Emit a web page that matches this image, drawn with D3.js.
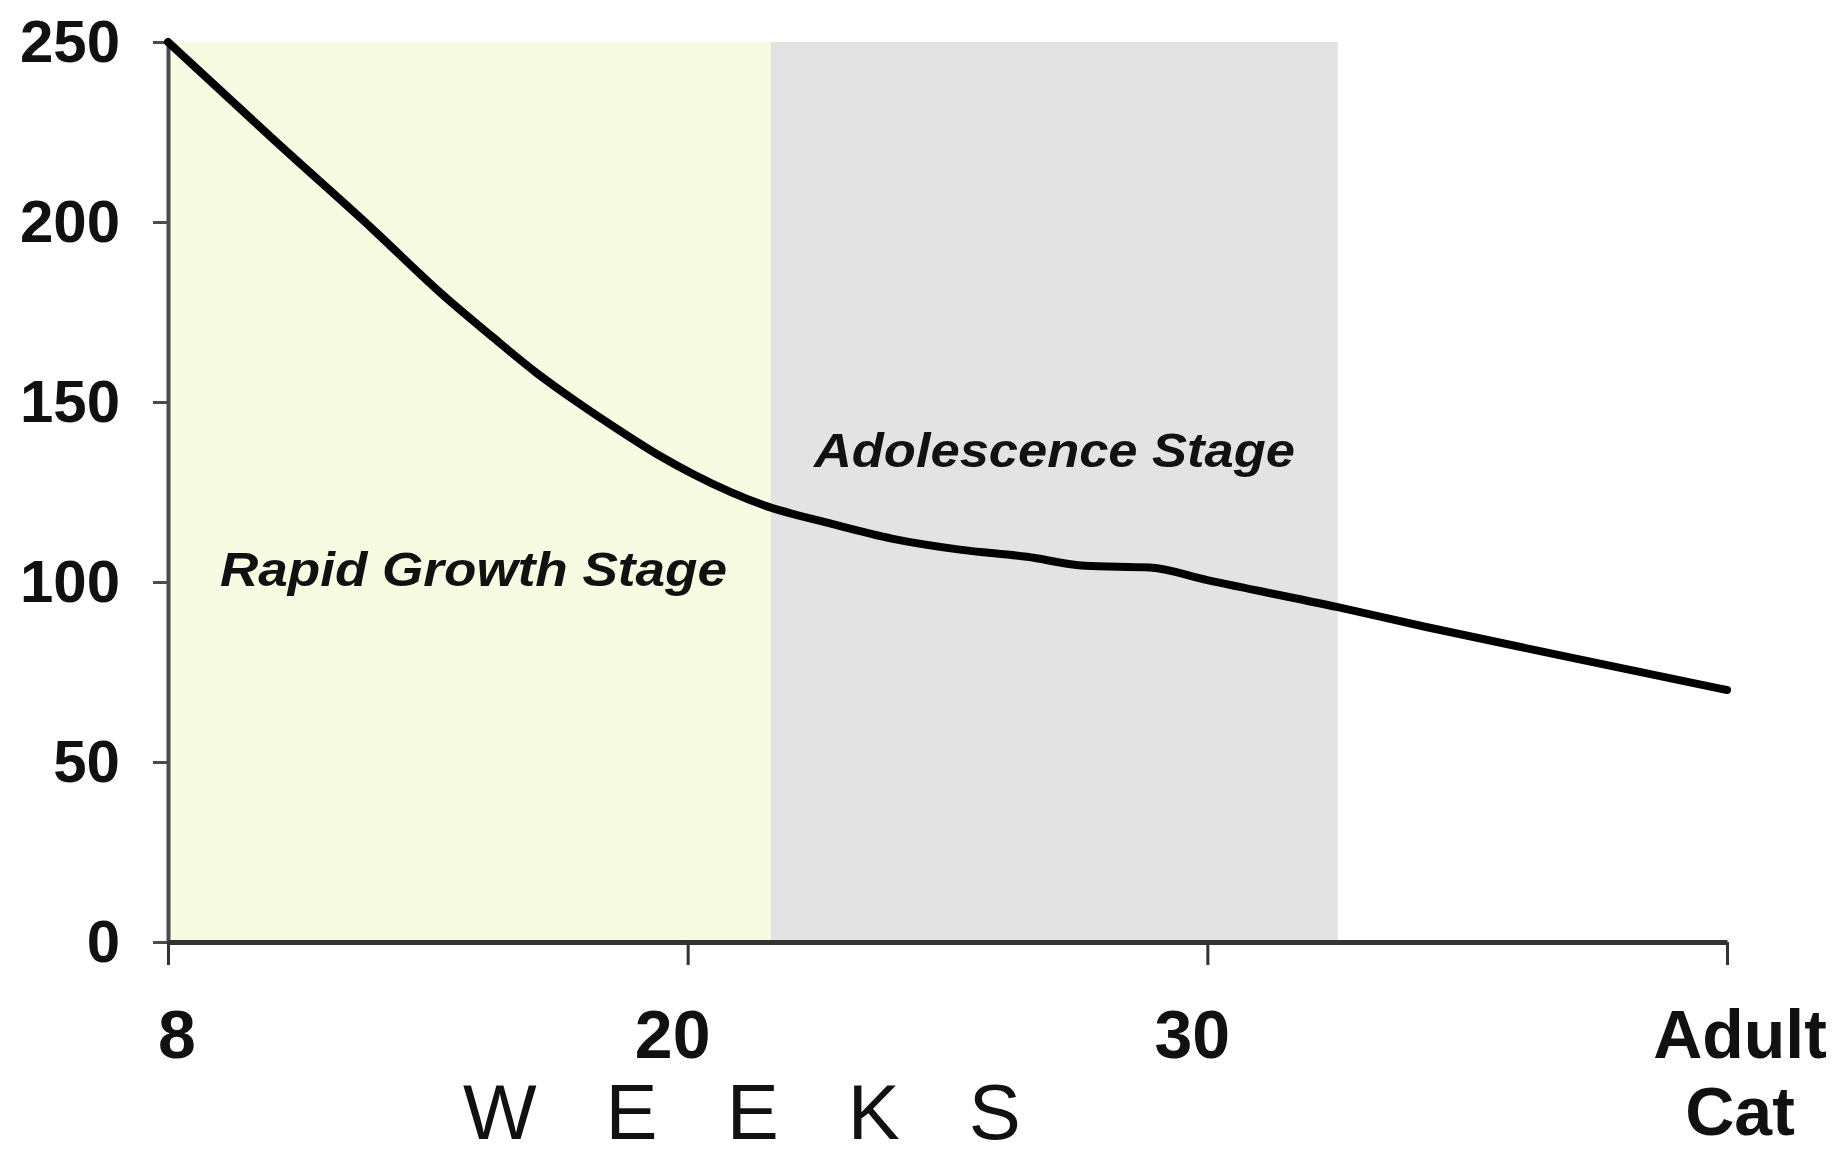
<!DOCTYPE html>
<html>
<head>
<meta charset="utf-8">
<script src="https://cdn.jsdelivr.net/npm/d3@7"></script>
<style>
    body { margin: 0; background: #fff; }
    svg { display: block; font-family: Arial, "Liberation Sans", sans-serif; }
</style>
</head>
<body>
<svg id="chart" width="1839" height="1156"></svg>
<script>
// x positions are in "tick slots": 0 = 8 weeks, 1 = 20, 2 = 30, 3 = adult cat
const xTickLabels = ['8', '20', '30', 'Adult Cat']
const xLabelNudge = [9, -15, -15, 13]
const yTicks = [0, 50, 100, 150, 200, 250]

const curveX = [0, 0.21, 0.394, 0.523, 0.625, 0.71, 0.787, 0.87, 0.947, 1.01,
    1.153, 1.268, 1.395, 1.524, 1.653, 1.765, 1.89, 2.0, 2.251, 2.421, 2.7, 3.0]
const curveY = [250, 222, 198, 180.5, 168, 158, 150, 142, 135, 130,
    121, 116.5, 112, 109, 107, 104.5, 104, 100.5, 93, 87.5, 79, 70]

const stageNames = ['Rapid Growth Stage', 'Adolescence Stage']
const stageStart = [0, 1.16]
const stageEnd = [1.16, 2.251]
const stageColors = ['#f7fbe1', '#e3e3e3']
// where the stage captions sit (slot, value)
const stageLabelX = [0.1, 1.243]
const stageLabelY = [99, 132]

const svg = d3.select('#chart')

let x = d3.scaleLinear().domain([0, 3]).range([168, 1727])
let y = d3.scaleLinear().domain([0, 250]).range([942, 42])

// shaded stages
svg.selectAll('rect.stage').data(stageNames).enter()
    .append('rect')
    .attr('class', 'stage')
    .attr('x', (d, i) => x(stageStart[i]))
    .attr('width', (d, i) => x(stageEnd[i]) - x(stageStart[i]))
    .attr('y', y(250))
    .attr('height', y(0) - y(250))
    .attr('fill', (d, i) => stageColors[i])

// stage captions
const captionWidths = [507, 481]
svg.selectAll('text.stage').data(stageNames).enter()
    .append('text')
    .attr('class', 'stage')
    .attr('x', (d, i) => x(stageLabelX[i]))
    .attr('y', (d, i) => y(stageLabelY[i]))
    .attr('textLength', (d, i) => captionWidths[i])
    .attr('lengthAdjust', 'spacingAndGlyphs')
    .attr('font-size', 48)
    .attr('font-weight', 'bold')
    .attr('font-style', 'italic')
    .attr('fill', '#111')
    .text(d => d)

// y axis
let yAxis = svg.append('g')
    .attr('transform', `translate(${x(0)},0)`)
    .call(d3.axisLeft(y).tickValues(yTicks).tickSize(15).tickSizeOuter(0).tickPadding(33))
yAxis.select('.domain').attr('stroke', '#4a4a4a').attr('stroke-width', 4)
yAxis.selectAll('.tick line').attr('stroke', '#4a4a4a').attr('stroke-width', 3)
yAxis.selectAll('.tick text')
    .attr('font-size', 60)
    .attr('font-weight', 'bold')
    .attr('font-family', 'Arial, "Liberation Sans", sans-serif')
    .attr('fill', '#111')

// x axis
let xAxis = svg.append('g')
    .attr('transform', `translate(0,${y(0)})`)
    .call(d3.axisBottom(x).tickValues([0, 1, 2, 3]).tickSize(23).tickSizeOuter(0).tickFormat(''))
xAxis.select('.domain').attr('stroke', '#333').attr('stroke-width', 5)
xAxis.selectAll('.tick line').attr('stroke', '#333').attr('stroke-width', 3)

let xLabels = svg.append('g')
xLabels.selectAll('text').data(xTickLabels).enter()
    .append('text')
    .attr('x', (d, i) => x(i) + xLabelNudge[i])
    .attr('y', 1058)
    .attr('text-anchor', 'middle')
    .attr('font-size', 68)
    .attr('font-weight', 'bold')
    .attr('fill', '#111')
    .each(function (d) {
        let words = d.split(' ')
        let t = d3.select(this)
        words.forEach((w, k) => {
            t.append('tspan')
                .attr('x', t.attr('x'))
                .attr('dy', k === 0 ? 0 : 77)
                .text(w)
        })
    })

// axis title
svg.append('text')
    .attr('x', 463)
    .attr('y', 1139)
    .attr('font-size', 78)
    .attr('letter-spacing', 69)
    .attr('fill', '#111')
    .text('WEEKS')

// the curve
let line = d3.line()
    .x((d, i) => x(curveX[i]))
    .y((d, i) => y(d))
    .curve(d3.curveMonotoneX)

svg.append('path')
    .datum(curveY)
    .attr('d', line)
    .attr('fill', 'none')
    .attr('stroke', '#000')
    .attr('stroke-width', 8)
    .attr('stroke-linecap', 'round')
    .attr('stroke-linejoin', 'round')
</script>
</body>
</html>
